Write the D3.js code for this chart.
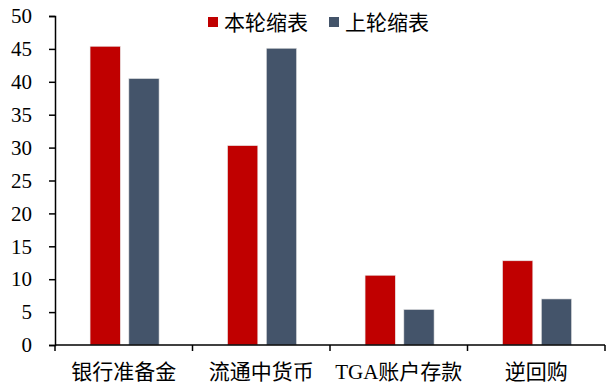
<!DOCTYPE html>
<html>
<head>
<meta charset="utf-8">
<script src="https://cdn.jsdelivr.net/npm/d3@7/dist/d3.min.js"></script>
<style>
  html, body { margin: 0; padding: 0; background: #fff; }
  svg { display: block; }
  text { font-family: "Liberation Serif", "Noto Sans CJK SC", serif; fill: #000; }
</style>
</head>
<body>
<svg id="chart" width="612" height="383"></svg>
<script>
// Balance-sheet components, this round vs. the previous round of tightening
const categories = ["银行准备金", "流通中货币", "TGA账户存款", "逆回购"];
const seriesNames = ["本轮缩表", "上轮缩表"];
const currentRound = [45.4, 30.3, 10.6, 12.8];
const previousRound = [40.5, 45.1, 5.4, 7.0];
const yTicks = [0, 5, 10, 15, 20, 25, 30, 35, 40, 45, 50];
const colors = ["#C00000", "#44546A"];

const seriesValues = [currentRound, previousRound];

const svg = d3.select("#chart");
const margin = { left: 55, right: 7, top: 16, bottom: 38 };
const width = 612, height = 383;

const x = d3.scaleBand()
  .domain(categories)
  .range([margin.left, width - margin.right])
  .paddingInner(0).paddingOuter(0);

const bw = x.bandwidth();
const xInner = d3.scaleBand()
  .domain(seriesNames)
  .range([bw * 0.255, bw * 0.757])
  .paddingInner(0.22).paddingOuter(0);

const y = d3.scaleLinear()
  .domain([0, 50])
  .range([height - margin.bottom, margin.top]);

// bars
seriesNames.forEach((name, si) => {
  svg.append("g")
    .selectAll("rect")
    .data(categories.map((c, i) => ({ c, v: seriesValues[si][i] })))
    .join("rect")
    .attr("x", d => x(d.c) + xInner(name))
    .attr("width", xInner.bandwidth())
    .attr("y", d => y(d.v))
    .attr("height", d => y(0) - y(d.v))
    .attr("fill", colors[si])
    .attr("stroke", "#e6e6e6")
    .attr("stroke-width", 0.6);
});

// y axis
const yAxis = svg.append("g")
  .attr("transform", `translate(${margin.left},0)`)
  .call(d3.axisLeft(y).tickValues(yTicks).tickSize(6).tickPadding(17).tickFormat(d3.format("d")));
yAxis.select(".domain").attr("stroke", "#000").attr("stroke-width", 1.5);
yAxis.selectAll(".tick line").attr("stroke", "#000").attr("stroke-width", 1.5);
yAxis.selectAll(".tick text")
  .style("font-size", "21px")
  .style("font-family", "'Liberation Serif', serif");

// x axis: ticks sit on the category boundaries
const boundaries = categories.map(c => x(c)).concat([x(categories[categories.length - 1]) + bw]);
const xAxisG = svg.append("g").attr("transform", `translate(0,${y(0)})`);
xAxisG.append("line")
  .attr("x1", margin.left).attr("x2", width - margin.right)
  .attr("y1", 0).attr("y2", 0)
  .attr("stroke", "#000").attr("stroke-width", 1.5);
xAxisG.selectAll("line.tk")
  .data(boundaries)
  .join("line")
  .attr("class", "tk")
  .attr("x1", d => d).attr("x2", d => d)
  .attr("y1", 0).attr("y2", 6)
  .attr("stroke", "#000").attr("stroke-width", 1.5);
xAxisG.selectAll("text")
  .data(categories)
  .join("text")
  .attr("x", d => x(d) + bw / 2)
  .attr("y", 27)
  .attr("dy", "0.35em")
  .attr("text-anchor", "middle")
  .style("font-size", "21px")
  .text(d => d);

// legend
const legend = svg.append("g").attr("transform", "translate(208,22)");
const legendOffsets = [0, 121];
seriesNames.forEach((name, i) => {
  const g = legend.append("g").attr("transform", `translate(${legendOffsets[i]},0)`);
  g.append("rect").attr("x", 0).attr("y", -5).attr("width", 10).attr("height", 10).attr("fill", colors[i]);
  g.append("text").attr("x", 16).attr("y", 0).attr("dy", "0.36em")
    .style("font-size", "21px")
    .style("font-family", "'Noto Sans CJK SC', sans-serif")
    .text(name);
});
</script>
</body>
</html>
